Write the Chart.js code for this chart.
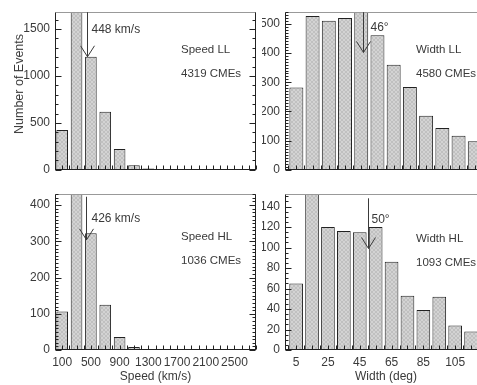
<!DOCTYPE html>
<html>
<head>
<meta charset="utf-8">
<script src="https://cdn.jsdelivr.net/npm/chart.js@4"></script>
<style>
  html, body { margin: 0; padding: 0; background: #fff; overflow: hidden; }
  body { width: 477px; height: 385px; position: relative; }
  canvas { position: absolute; }
  #ylab {
    position: absolute; left: 19px; top: 84px;
    transform: translate(-50%, -50%) rotate(-90deg);
    font: 12.5px 'Liberation Sans', Arial, sans-serif; color: #3a3a3a; white-space: nowrap;
  }
</style>
</head>
<body>
<canvas id="speedLL" width="262" height="182" style="left:0;top:0"></canvas>
<canvas id="widthLL" width="240" height="182" style="left:262px;top:0"></canvas>
<canvas id="speedHL" width="262" height="203" style="left:0;top:182px"></canvas>
<canvas id="widthHL" width="240" height="203" style="left:262px;top:182px"></canvas>
<div id="ylab">Number of Events</div>
<script>
// speed histograms (200 km/s bins)
const speedBins = [100, 300, 500, 700, 900, 1100, 1300];
const speedLL = [424, 1785, 1205, 620, 222, 48, 15];
const speedHL = [106, 437, 322, 125, 36, 8, 2];
const speedTicks = [100, 500, 900, 1300, 1700, 2100, 2500];

// width histograms (10 deg bins)
const widthBins = [5, 15, 25, 35, 45, 55, 65, 75, 85, 95, 105, 115];
const widthLL = [282, 527, 511, 520, 560, 461, 360, 284, 185, 143, 117, 98];
const widthHL = [65, 165, 120, 116, 115, 120, 86, 53, 39, 52, 24, 18];
const widthTicks = [5, 25, 45, 65, 85, 105, 125];

// y tick labels per panel
const speedLLTicks = [0, 500, 1000, 1500];
const speedHLTicks = [0, 100, 200, 300, 400];
const widthLLTicks = [0, 100, 200, 300, 400, 500];
const widthHLTicks = [0, 20, 40, 60, 80, 100, 120, 140];

// means and counts
const means = { speedLL: 448, speedHL: 426, widthLL: 46, widthHL: 50 };
const counts = { speedLL: 4319, speedHL: 1036, widthLL: 4580, widthHL: 1093 };

const FONT = "'Liberation Sans', Arial, sans-serif";
const INK = '#3a3a3a';

function hatch() {
    const c = document.createElement('canvas');
    c.width = 4; c.height = 4;
    const g = c.getContext('2d');
    g.fillStyle = '#d3d3d3';
    g.fillRect(0, 0, 4, 4);
    g.fillStyle = '#c0c0c0';
    for (let i = 0; i < 4; i++) {
        g.fillRect(i, i, 1, 1);
        g.fillRect(3 - i, i, 1, 1);
    }
    return g.createPattern(c, 'repeat');
}

const panelDecor = {
    id: 'panelDecor',
    afterDatasetsDraw(chart, args, o) {
        const { ctx, chartArea: a, scales: { x, y } } = chart;
        const line = (x1, y1, x2, y2) => {
            ctx.beginPath(); ctx.moveTo(x1, y1); ctx.lineTo(x2, y2); ctx.stroke();
        };
        ctx.save();
        ctx.lineWidth = 1;

        const L = Math.round(a.left) + 0.5, R = Math.round(a.right) - 0.5;
        const T = Math.round(a.top) + 0.5, B = Math.round(a.bottom) - 0.5;

        // frame
        ctx.strokeStyle = '#999';
        line(L, T, R + 0.5, T);
        ctx.strokeStyle = '#222';
        line(L, T, L, B + 0.5);
        line(L, B, R + 0.5, B);
        if (o.rightBorder) line(R, T, R, B);

        // x ticks (inward)
        for (let i = Math.ceil(x.min / o.xMinor); i * o.xMinor <= x.max; i++) {
            const px = Math.round(x.getPixelForValue(i * o.xMinor)) + 0.5;
            line(px, B, px, B - 4);
        }

        // y ticks (inward)
        const majors = y.ticks.map(t => t.value);
        for (let i = 0; i * o.yMinor <= y.max; i++) {
            const v = i * o.yMinor;
            const py = Math.round(y.getPixelForValue(v)) + 0.5;
            const len = majors.includes(v) ? 6 : 3;
            line(L, py, L + len, py);
            if (o.rightBorder) line(R, py, R - len, py);
        }

        // mean arrow
        ctx.strokeStyle = INK;
        const ax = Math.round(x.getPixelForValue(o.mean)) + 0.5;
        const yTop = o.arrowFrom == null ? a.top : y.getPixelForValue(o.arrowFrom);
        const yTip = y.getPixelForValue(o.arrowTo);
        line(ax, yTop, ax, yTip);
        line(ax - 7, yTip - 11, ax, yTip);
        line(ax + 7, yTip - 11, ax, yTip);

        // labels
        ctx.fillStyle = INK;
        ctx.textBaseline = 'middle';
        ctx.textAlign = 'left';
        ctx.font = '12px ' + FONT;
        ctx.fillText(o.meanText, ax + o.meanDx, a.top + o.meanDy);
        ctx.font = '11.5px ' + FONT;
        ctx.fillText(o.name, a.left + o.nameDx, a.top + o.nameDy);
        ctx.fillText(o.count + ' CMEs', a.left + o.nameDx, a.top + o.nameDy + 24);
        ctx.restore();
    }
};

function makePanel(id, p) {
    return new Chart(document.getElementById(id), {
        type: 'bar',
        data: {
            datasets: [{
                data: p.bins.map((b, i) => ({ x: b, y: p.values[i] })),
                backgroundColor: hatch(),
                borderColor: '#222',
                borderWidth: 1,
                categoryPercentage: 1,
                barPercentage: p.barPct
            }]
        },
        options: {
            responsive: false,
            animation: false,
            events: [],
            layout: { padding: p.padding },
            plugins: {
                legend: { display: false },
                tooltip: { enabled: false },
                panelDecor: p.decor
            },
            scales: {
                x: {
                    type: 'linear',
                    min: p.xMin,
                    max: p.xMax,
                    offset: false,
                    grid: { display: false, drawTicks: false },
                    border: { display: false },
                    afterBuildTicks: s => { s.ticks = p.xTicks.map(v => ({ value: v })); },
                    ticks: {
                        display: p.showX,
                        autoSkip: false,
                        maxRotation: 0,
                        padding: 5,
                        color: INK,
                        font: { family: FONT, size: 12 },
                        callback: v => String(v)
                    },
                    title: {
                        display: !!p.xTitle,
                        text: p.xTitle,
                        color: INK,
                        font: { family: FONT, size: 12 },
                        padding: { top: 0, bottom: 1 }
                    },
                    afterFit: s => { s.height = p.xAxisH; }
                },
                y: {
                    min: 0,
                    max: p.yMax,
                    grid: { display: false, drawTicks: false },
                    border: { display: false },
                    afterBuildTicks: s => { s.ticks = p.yTicks.map(v => ({ value: v })); },
                    ticks: {
                        autoSkip: false,
                        padding: 5,
                        color: INK,
                        font: { family: FONT, size: 12 },
                        callback: v => String(v)
                    },
                    afterFit: s => { s.width = p.yAxisW; }
                }
            }
        },
        plugins: [panelDecor]
    });
}

makePanel('speedLL', {
    bins: speedBins, values: speedLL, barPct: 0.81,
    xMin: 0, xMax: 2800, xTicks: speedTicks, showX: false, xAxisH: 5,
    yMax: 1680, yTicks: speedLLTicks, yAxisW: 55,
    padding: { top: 5, right: 6, bottom: 0, left: 0 },
    decor: {
        rightBorder: true, xMinor: 100, yMinor: 100,
        mean: means.speedLL, arrowTo: 1205, meanText: means.speedLL + ' km/s', meanDx: 4, meanDy: 17,
        name: 'Speed LL', count: counts.speedLL, nameDx: 126, nameDy: 38
    }
});

makePanel('widthLL', {
    bins: widthBins, values: widthLL, barPct: 0.86,
    xMin: -2, xMax: 125, xTicks: widthTicks, showX: false, xAxisH: 5,
    yMax: 540, yTicks: widthLLTicks, yAxisW: 23,
    padding: { top: 5, right: 11, bottom: 0, left: 0 },
    decor: {
        rightBorder: false, xMinor: 5, yMinor: 10,
        mean: means.widthLL, arrowTo: 402, meanText: means.widthLL + '°', meanDx: 7, meanDy: 15,
        name: 'Width LL', count: counts.widthLL, nameDx: 131, nameDy: 38
    }
});

makePanel('speedHL', {
    bins: speedBins, values: speedHL, barPct: 0.81,
    xMin: 0, xMax: 2800, xTicks: speedTicks, showX: true, xTitle: 'Speed (km/s)', xAxisH: 35,
    yMax: 430, yTicks: speedHLTicks, yAxisW: 55,
    padding: { top: 2, right: 6, bottom: 0, left: 0 },
    decor: {
        rightBorder: true, xMinor: 100, yMinor: 10,
        mean: means.speedHL, arrowFrom: 423, arrowTo: 304, meanText: means.speedHL + ' km/s', meanDx: 5, meanDy: 24,
        name: 'Speed HL', count: counts.speedHL, nameDx: 126, nameDy: 43
    }
});

makePanel('widthHL', {
    bins: widthBins, values: widthHL, barPct: 0.86,
    xMin: -2, xMax: 125, xTicks: widthTicks, showX: true, xTitle: 'Width (deg)', xAxisH: 35,
    yMax: 152, yTicks: widthHLTicks, yAxisW: 23,
    padding: { top: 0, right: 11, bottom: 0, left: 0 },
    decor: {
        rightBorder: false, xMinor: 5, yMinor: 5,
        mean: means.widthHL, arrowFrom: 148, arrowTo: 99, meanText: means.widthHL + '°', meanDx: 3, meanDy: 25,
        name: 'Width HL', count: counts.widthHL, nameDx: 131, nameDy: 45
    }
});
</script>
</body>
</html>
